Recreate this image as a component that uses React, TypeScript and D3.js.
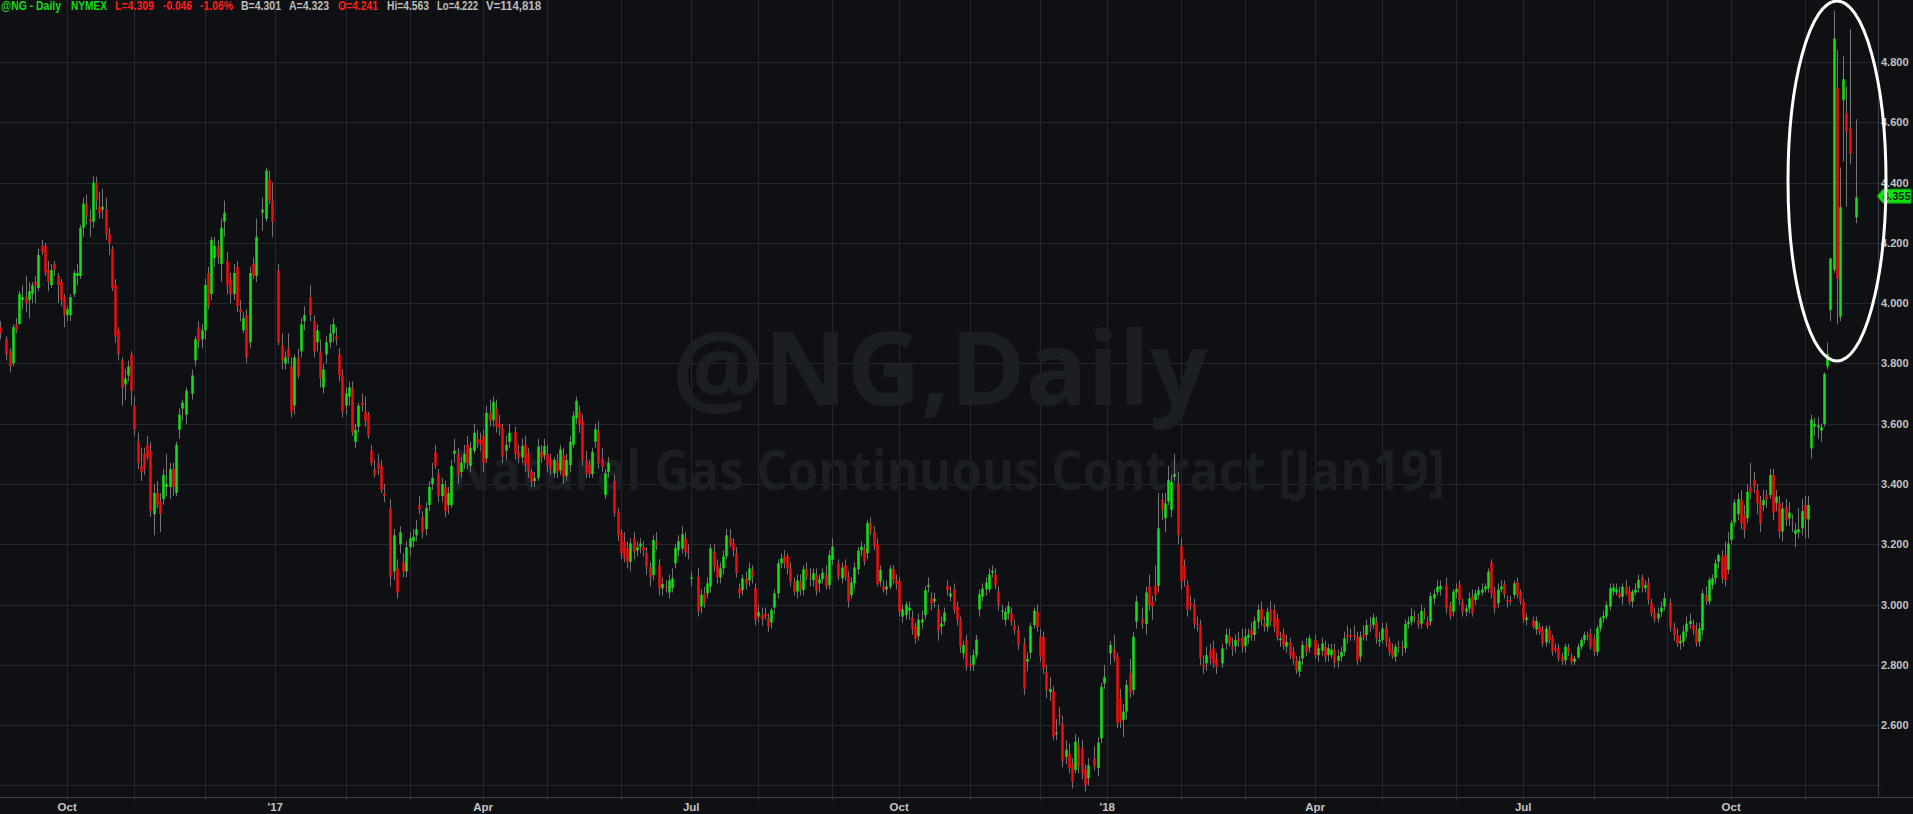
import React, { useEffect, useRef } from "react";
import * as d3 from "d3";

// one row per weekday of the month: [open, high, low, close], null = exchange holiday
const sep16 = [
  [3.92,3.94,3.88,3.90], null, [3.88,3.89,3.81,3.83], [3.84,3.85,3.77,3.79], [3.80,3.93,3.79,3.92],
  [3.93,3.95,3.90,3.91], [3.93,4.04,3.93,4.03], [4.01,4.06,3.98,4.02], [4.02,4.09,3.97,4.00], [4.01,4.07,3.95,4.04],
  [4.03,4.07,4.00,4.06], [4.07,4.09,4.00,4.06], [4.05,4.18,4.04,4.16], [4.19,4.21,4.16,4.17], [4.19,4.20,4.09,4.10],
  [4.11,4.14,4.04,4.07], [4.06,4.13,4.05,4.11], [4.13,4.14,4.09,4.11], [4.09,4.10,4.00,4.06], [4.07,4.08,3.99,4.01],
  [4.02,4.03,3.92,3.96],
];
const oct16 = [
  [3.96,3.99,3.94,3.98], [3.96,4.03,3.94,4.02], [4.03,4.11,4.02,4.10], [4.09,4.13,4.06,4.10], [4.09,4.26,4.08,4.25],
  [4.25,4.35,4.22,4.33], [4.33,4.36,4.26,4.29], [4.28,4.31,4.22,4.27], [4.27,4.42,4.25,4.40], [4.40,4.42,4.31,4.34],
  [4.32,4.37,4.28,4.30], [4.31,4.38,4.28,4.32], [4.31,4.35,4.21,4.23], [4.23,4.25,4.16,4.20], [4.18,4.19,4.04,4.05],
  [4.06,4.08,3.87,3.89], [3.91,3.92,3.81,3.83], [3.81,3.82,3.66,3.72], [3.73,3.78,3.68,3.75], [3.76,3.81,3.74,3.79],
  [3.83,3.84,3.66,3.71],
];
const nov16 = [
  [3.66,3.69,3.56,3.58], [3.54,3.57,3.45,3.47], [3.46,3.52,3.41,3.44], [3.50,3.52,3.43,3.45], [3.53,3.56,3.48,3.49],
  [3.51,3.54,3.29,3.31], [3.30,3.40,3.23,3.37], [3.37,3.41,3.32,3.33], [3.34,3.37,3.24,3.30], [3.35,3.45,3.33,3.43],
  [3.39,3.50,3.36,3.40], [3.39,3.47,3.35,3.45], [3.45,3.47,3.36,3.39], [3.37,3.54,3.36,3.53], [3.58,3.65,3.55,3.63],
  [3.65,3.68,3.61,3.67], [3.63,3.72,3.60,3.71], null, [3.70,3.78,3.68,3.76], [3.81,3.89,3.79,3.88],
  [3.92,3.94,3.85,3.87], [3.88,3.93,3.85,3.91],
];
const dec16 = [
  [3.91,4.08,3.88,4.06], [4.10,4.12,3.98,3.99], [4.03,4.22,4.01,4.21], [4.15,4.22,4.12,4.19], [4.19,4.21,4.13,4.15],
  [4.13,4.28,4.07,4.25], [4.27,4.34,4.22,4.30], [4.14,4.17,4.03,4.06], [4.08,4.10,4.00,4.03], [4.03,4.13,4.01,4.10],
  [4.12,4.14,3.97,3.99], [3.98,4.01,3.94,3.97], [3.91,3.97,3.90,3.95], [3.96,3.98,3.80,3.82], [3.87,4.12,3.85,4.10],
  [4.13,4.15,4.08,4.09], [4.09,4.28,4.07,4.22], null, [4.30,4.35,4.24,4.31], [4.28,4.45,4.27,4.44],
  [4.41,4.44,4.33,4.34], [4.34,4.40,4.22,4.27],
];
const jan17 = [
  null, [4.11,4.13,3.86,3.87], [3.86,3.90,3.78,3.81], [3.80,3.84,3.78,3.82], [3.85,3.90,3.80,3.82],
  [3.79,3.82,3.62,3.64], [3.66,3.83,3.63,3.82], [3.82,3.85,3.75,3.76], [3.84,3.95,3.82,3.93], [3.94,3.99,3.91,3.96],
  null, [4.02,4.06,3.94,3.96], [3.94,3.96,3.82,3.84], [3.87,3.93,3.84,3.91], [3.84,3.88,3.72,3.75],
  [3.72,3.80,3.70,3.78], [3.83,3.89,3.80,3.87], [3.87,3.93,3.85,3.90], [3.90,3.95,3.87,3.93], [3.89,3.92,3.86,3.88],
  [3.83,3.85,3.74,3.76], [3.76,3.78,3.62,3.64],
];
const feb17 = [
  [3.66,3.72,3.63,3.70], [3.69,3.74,3.66,3.72], [3.72,3.74,3.56,3.57], [3.54,3.60,3.52,3.58], [3.59,3.67,3.57,3.66],
  [3.67,3.70,3.64,3.66], [3.64,3.69,3.59,3.61], [3.63,3.64,3.55,3.56], [3.51,3.53,3.46,3.47], [3.45,3.48,3.42,3.43],
  [3.47,3.50,3.43,3.45], [3.46,3.48,3.37,3.38], [3.37,3.40,3.34,3.36], null, [3.32,3.35,3.06,3.09],
  [3.11,3.25,3.08,3.23], [3.12,3.15,3.02,3.04], [3.20,3.26,3.17,3.24], [3.14,3.17,3.09,3.11], [3.11,3.21,3.09,3.19],
];
const mar17 = [
  [3.19,3.24,3.16,3.22], [3.21,3.25,3.19,3.225], [3.23,3.28,3.21,3.25], [3.33,3.36,3.30,3.315], [3.29,3.31,3.22,3.24],
  [3.25,3.34,3.23,3.32], [3.33,3.41,3.31,3.39], [3.40,3.47,3.38,3.42], [3.505,3.53,3.45,3.46], [3.435,3.45,3.34,3.36],
  [3.36,3.42,3.34,3.40], [3.39,3.41,3.29,3.31], [3.33,3.39,3.30,3.37], [3.33,3.48,3.32,3.46], [3.50,3.55,3.47,3.51],
  [3.50,3.52,3.40,3.43], [3.44,3.49,3.42,3.47], [3.47,3.53,3.45,3.50], [3.53,3.56,3.45,3.47], [3.46,3.54,3.44,3.52],
  [3.51,3.60,3.50,3.57], [3.55,3.58,3.52,3.535], [3.546,3.57,3.51,3.53],
];
const apr17 = [
  [3.56,3.58,3.44,3.47], [3.485,3.66,3.47,3.636], [3.636,3.68,3.59,3.607], [3.612,3.69,3.59,3.672], [3.65,3.68,3.57,3.59],
  [3.60,3.63,3.56,3.585], [3.585,3.60,3.47,3.49], [3.51,3.56,3.48,3.53], [3.54,3.60,3.52,3.57], null,
  [3.573,3.59,3.48,3.50], [3.507,3.53,3.47,3.485], [3.488,3.55,3.47,3.526], [3.53,3.56,3.44,3.463], [3.50,3.52,3.42,3.441],
  [3.44,3.45,3.39,3.408], [3.41,3.44,3.39,3.42], [3.42,3.55,3.41,3.524], [3.507,3.53,3.47,3.488], [3.496,3.55,3.48,3.526],
];
const may17 = [
  [3.50,3.53,3.44,3.463], [3.485,3.50,3.43,3.447], [3.435,3.49,3.42,3.48], [3.474,3.50,3.42,3.441], [3.445,3.53,3.43,3.515],
  [3.495,3.52,3.40,3.424], [3.427,3.50,3.41,3.48], [3.463,3.56,3.44,3.54], [3.53,3.64,3.52,3.627], [3.618,3.69,3.60,3.676],
  [3.64,3.66,3.57,3.596], [3.61,3.63,3.46,3.48], [3.482,3.51,3.42,3.435], [3.463,3.48,3.42,3.433], [3.433,3.52,3.42,3.507],
  [3.54,3.60,3.52,3.582], [3.577,3.61,3.45,3.468], [3.485,3.52,3.44,3.457], [3.363,3.45,3.35,3.435], [3.44,3.49,3.42,3.47],
  null, [3.41,3.43,3.29,3.303], [3.308,3.32,3.21,3.23],
];
const jun17 = [
  [3.238,3.25,3.15,3.17], [3.21,3.24,3.14,3.153], [3.186,3.21,3.12,3.142], [3.142,3.22,3.11,3.203], [3.22,3.24,3.15,3.175],
  [3.18,3.21,3.16,3.19], [3.192,3.22,3.17,3.203], [3.19,3.21,3.16,3.18], [3.17,3.19,3.10,3.125], [3.125,3.14,3.06,3.09],
  [3.098,3.23,3.08,3.214], [3.208,3.24,3.18,3.197], [3.128,3.15,3.03,3.054], [3.054,3.09,3.03,3.068], [3.06,3.08,3.04,3.054],
  [3.04,3.10,3.02,3.08], [3.054,3.12,3.04,3.087], [3.137,3.20,3.12,3.187], [3.18,3.23,3.16,3.21], [3.186,3.26,3.17,3.233],
  [3.22,3.24,3.16,3.175], [3.175,3.20,3.15,3.17],
];
const jul17 = [
  [3.085,3.11,3.06,3.09], null, [3.092,3.12,2.96,2.976], [2.993,3.05,2.97,3.032], [3.037,3.06,2.99,3.004],
  [3.037,3.09,3.02,3.07], [3.06,3.20,3.04,3.187], [3.175,3.20,3.11,3.126], [3.13,3.15,3.07,3.09], [3.09,3.14,3.07,3.12],
  [3.12,3.18,3.10,3.16], [3.16,3.25,3.15,3.23], [3.22,3.25,3.19,3.197], [3.204,3.22,3.16,3.18], [3.17,3.19,3.09,3.104],
  [3.054,3.07,3.02,3.037], [3.048,3.10,3.03,3.087], [3.087,3.11,3.05,3.07], [3.08,3.14,3.06,3.12], [3.115,3.13,3.07,3.092],
  [3.054,3.07,2.93,2.95],
];
const aug17 = [
  [2.96,3.00,2.94,2.976], [2.965,2.99,2.93,2.95], [2.97,2.99,2.95,2.96], [2.954,2.97,2.91,2.927], [2.94,2.99,2.92,2.982],
  [2.99,3.05,2.97,3.037], [3.037,3.15,3.02,3.137], [3.137,3.17,3.12,3.153], [3.16,3.18,3.12,3.137], [3.16,3.17,3.10,3.12],
  [3.12,3.14,3.06,3.076], [3.076,3.09,3.03,3.043], [3.043,3.10,3.02,3.08], [3.076,3.10,3.03,3.048], [3.048,3.13,3.03,3.117],
  [3.117,3.14,3.08,3.092], [3.09,3.12,3.06,3.085], [3.081,3.12,3.06,3.104], [3.098,3.12,3.03,3.046], [3.07,3.10,3.04,3.084],
  [3.084,3.12,3.07,3.106], [3.098,3.13,3.05,3.06], [3.065,3.18,3.05,3.164],
];
const sep17 = [
  [3.148,3.22,3.13,3.192], null, [3.137,3.15,3.08,3.092], [3.087,3.14,3.07,3.123], [3.131,3.15,3.08,3.092],
  [3.095,3.11,2.99,3.01], [3.031,3.09,3.02,3.073], [3.07,3.14,3.05,3.123], [3.117,3.19,3.10,3.179], [3.18,3.21,3.16,3.192],
  [3.186,3.20,3.13,3.142], [3.17,3.28,3.15,3.27], [3.271,3.29,3.23,3.242], [3.242,3.26,3.18,3.192], [3.20,3.22,3.06,3.067],
  [3.076,3.13,3.06,3.115], [3.059,3.08,3.04,3.048], [3.05,3.08,3.03,3.06], [3.059,3.13,3.05,3.12], [3.117,3.13,3.07,3.08],
  [3.08,3.10,3.05,3.067],
];
const oct17 = [
  [3.078,3.09,2.96,2.976], [2.96,3.00,2.94,2.984], [2.965,3.01,2.95,3.0], [2.98,3.01,2.95,2.99], [2.957,2.98,2.90,2.918],
  [2.926,2.94,2.87,2.888], [2.895,2.97,2.88,2.95], [2.94,2.98,2.92,2.95], [2.965,3.06,2.95,3.048], [3.059,3.09,3.04,3.065],
  [3.02,3.04,2.98,3.003], [3.01,3.04,2.99,3.02], [2.982,3.00,2.88,2.913], [2.926,2.96,2.90,2.937], [2.943,2.99,2.93,2.973],
  [3.062,3.08,3.03,3.048], [3.026,3.06,3.01,3.037], [3.051,3.07,2.97,2.982], [2.993,3.01,2.93,2.949], [2.95,2.96,2.84,2.86],
  [2.838,2.88,2.82,2.865], [2.884,2.90,2.78,2.794],
];
const nov17 = [
  [2.805,2.83,2.78,2.794], [2.80,2.85,2.78,2.832], [2.832,2.90,2.82,2.884], [2.984,3.05,2.96,3.034], [3.026,3.07,3.01,3.053],
  [3.05,3.09,3.03,3.073], [3.05,3.12,3.04,3.10], [3.105,3.13,3.09,3.112], [3.10,3.12,3.05,3.065], [3.043,3.06,2.98,2.998],
  [2.976,3.00,2.95,2.98], [2.949,2.99,2.93,2.976], [2.97,3.01,2.95,2.995], [2.97,2.99,2.93,2.943], [2.932,2.95,2.90,2.913],
  [2.915,2.93,2.85,2.866], null, [2.87,2.89,2.70,2.72], [2.81,2.84,2.78,2.82], [2.84,2.94,2.82,2.928],
  [2.932,2.99,2.92,2.98], [2.976,3.00,2.91,2.926],
];
const dec17 = [
  [2.893,2.92,2.81,2.827], [2.893,2.91,2.77,2.788], [2.777,2.80,2.69,2.716], [2.71,2.76,2.68,2.72], [2.714,2.73,2.55,2.562],
  [2.57,2.62,2.55,2.575], [2.633,2.66,2.60,2.628], [2.606,2.63,2.46,2.479], [2.495,2.55,2.47,2.518], [2.506,2.54,2.44,2.457],
  [2.473,2.49,2.39,2.412], [2.451,2.57,2.44,2.545], [2.534,2.56,2.44,2.462], [2.523,2.55,2.42,2.44], [2.453,2.47,2.38,2.401],
  [2.423,2.49,2.40,2.467], null, [2.49,2.53,2.45,2.464], [2.457,2.56,2.43,2.542], [2.556,2.74,2.54,2.727],
  [2.738,2.80,2.72,2.76],
];
const jan18 = [
  null, [2.838,2.88,2.80,2.866], [2.85,2.90,2.81,2.822], [2.827,2.84,2.59,2.606], [2.689,2.72,2.59,2.612],
  [2.617,2.67,2.56,2.645], [2.645,2.75,2.62,2.733], [2.772,2.82,2.69,2.705], [2.716,2.91,2.70,2.893], [2.943,3.03,2.92,3.01],
  null, [2.95,2.99,2.92,2.937], [2.935,3.06,2.90,3.04], [3.06,3.10,2.98,2.998], [3.01,3.03,2.95,2.993],
  [3.062,3.13,3.01,3.032], [3.062,3.37,3.04,3.253], [3.349,3.37,3.28,3.314], [3.286,3.37,3.24,3.336], [3.341,3.46,3.33,3.413],
  [3.314,3.43,3.29,3.407], [3.424,3.50,3.41,3.433], [3.402,3.44,3.20,3.231],
];
const feb18 = [
  [3.194,3.22,3.05,3.076], [3.128,3.15,3.06,3.084], [3.065,3.08,2.96,2.984], [3.006,3.03,2.98,2.995], [3.0,3.02,2.92,2.935],
  [2.937,2.96,2.91,2.932], [2.932,2.95,2.80,2.821], [2.80,2.83,2.77,2.793], [2.805,2.86,2.78,2.832], [2.847,2.87,2.80,2.821],
  [2.855,2.88,2.79,2.805], [2.821,2.84,2.77,2.793], null, [2.805,2.87,2.79,2.855], [2.871,2.92,2.85,2.90],
  [2.895,2.92,2.86,2.871], [2.86,2.89,2.83,2.852], [2.862,2.90,2.84,2.882], [2.888,2.91,2.86,2.876], [2.89,2.92,2.84,2.858],
];
const mar18 = [
  [2.862,2.92,2.84,2.895], [2.89,2.92,2.87,2.90], [2.915,2.94,2.88,2.899], [2.899,2.96,2.88,2.946], [2.943,3.0,2.92,2.982],
  [2.985,3.01,2.93,2.949], [2.937,2.96,2.91,2.926], [2.926,2.99,2.91,2.976], [2.984,3.01,2.93,2.943], [2.982,3.0,2.91,2.926],
  [2.954,2.97,2.88,2.893], [2.882,2.91,2.86,2.888], [2.904,2.92,2.85,2.865], [2.86,2.90,2.84,2.876], [2.876,2.89,2.82,2.832],
  [2.843,2.86,2.80,2.818], [2.816,2.83,2.77,2.783], [2.777,2.83,2.76,2.813], [2.821,2.88,2.80,2.866], [2.866,2.89,2.83,2.843],
  [2.858,2.90,2.84,2.888], null,
];
const apr18 = [
  [2.882,2.90,2.82,2.832], [2.832,2.87,2.81,2.855], [2.847,2.89,2.83,2.871], [2.86,2.88,2.81,2.827], [2.832,2.87,2.81,2.855],
  [2.832,2.87,2.82,2.85], [2.851,2.87,2.79,2.807], [2.814,2.85,2.79,2.829], [2.827,2.86,2.81,2.843], [2.843,2.91,2.83,2.888],
  [2.899,2.93,2.87,2.893], [2.899,2.92,2.88,2.891], [2.899,2.93,2.88,2.893], [2.893,2.91,2.80,2.814], [2.827,2.91,2.81,2.893],
  [2.90,2.93,2.88,2.893], [2.899,2.95,2.88,2.932], [2.932,2.96,2.91,2.926], [2.932,2.97,2.92,2.957], [2.943,2.96,2.87,2.888],
  [2.878,2.91,2.86,2.882],
];
const may18 = [
  [2.882,2.94,2.87,2.921], [2.924,2.94,2.86,2.877], [2.877,2.89,2.83,2.843], [2.849,2.87,2.82,2.827], [2.827,2.87,2.81,2.86],
  [2.86,2.88,2.84,2.855], [2.86,2.88,2.83,2.855], [2.855,2.95,2.84,2.935], [2.935,2.96,2.92,2.943], [2.943,2.99,2.93,2.962],
  [2.96,2.98,2.94,2.954], [2.949,2.97,2.92,2.932], [2.937,3.0,2.92,2.979], [2.973,2.99,2.95,2.965], [2.943,2.96,2.92,2.929],
  [2.943,3.04,2.93,3.028], [3.02,3.05,3.0,3.035], [3.042,3.08,3.03,3.059], [3.05,3.08,3.03,3.062], null,
  [3.065,3.09,2.97,2.987], [2.998,3.01,2.95,2.96], [2.976,3.05,2.96,3.043],
];
const jun18 = [
  [3.04,3.07,3.02,3.052], [3.065,3.08,3.0,3.015], [3.01,3.02,2.96,2.976], [2.976,3.0,2.96,2.987], [2.987,3.04,2.97,3.02],
  [3.026,3.05,2.96,2.97], [3.015,3.05,3.0,3.037], [3.032,3.06,3.02,3.048], [3.04,3.07,3.03,3.05], [3.05,3.07,3.04,3.06],
  [3.054,3.12,3.04,3.109], [3.139,3.15,3.02,3.037], [3.043,3.06,2.97,2.987], [3.004,3.07,2.99,3.05], [3.05,3.08,3.04,3.06],
  [3.068,3.08,3.02,3.032], [3.015,3.03,2.99,3.01], [3.015,3.03,3.0,3.01], [3.032,3.08,3.02,3.07], [3.073,3.09,3.02,3.032],
  [3.04,3.05,3.0,3.01],
];
const jul18 = [
  [3.01,3.02,2.94,2.951], [2.948,2.97,2.93,2.957], null, [2.946,2.96,2.92,2.926], [2.918,2.96,2.90,2.946],
  [2.926,2.94,2.90,2.91], [2.918,2.93,2.86,2.871], [2.874,2.93,2.86,2.921], [2.915,2.93,2.87,2.882], [2.891,2.90,2.83,2.843],
  [2.855,2.87,2.84,2.849], [2.858,2.87,2.81,2.821], [2.827,2.84,2.80,2.81], [2.815,2.87,2.80,2.86], [2.858,2.87,2.83,2.84],
  [2.827,2.84,2.80,2.81], [2.81,2.83,2.80,2.821], [2.825,2.87,2.82,2.86], [2.86,2.89,2.85,2.882], [2.882,2.91,2.87,2.899],
  [2.899,2.91,2.88,2.895], [2.904,2.92,2.85,2.86],
];
const aug18 = [
  [2.888,2.90,2.83,2.843], [2.843,2.93,2.83,2.921], [2.921,2.96,2.91,2.954], [2.954,2.98,2.94,2.962], [2.96,3.01,2.95,2.998],
  [2.993,3.07,2.98,3.054], [3.043,3.07,3.03,3.057], [3.04,3.07,3.03,3.05], [3.037,3.06,3.02,3.026], [3.026,3.07,3.0,3.059],
  [3.059,3.08,3.03,3.037], [3.043,3.06,3.0,3.01], [3.01,3.05,2.99,3.043], [3.04,3.07,3.03,3.05], [3.054,3.10,3.04,3.082],
  [3.09,3.10,3.04,3.057], [3.054,3.08,3.04,3.065], [3.073,3.09,3.0,3.015], [3.006,3.02,2.96,2.971], [2.973,2.99,2.94,2.949],
  [2.954,2.99,2.94,2.971], [2.975,3.01,2.96,2.99], [2.993,3.04,2.98,3.021],
];
const sep18 = [
  null, [3.006,3.02,2.91,2.926], [2.926,2.94,2.88,2.899], [2.899,2.92,2.86,2.871], [2.871,2.90,2.85,2.88],
  [2.877,2.93,2.86,2.91], [2.91,2.96,2.89,2.937], [2.935,2.97,2.92,2.945], [2.932,2.95,2.90,2.915], [2.915,2.94,2.86,2.871],
  [2.877,2.94,2.86,2.921], [2.915,3.05,2.90,3.037], [3.032,3.06,3.0,3.01], [3.01,3.09,3.0,3.082], [3.065,3.10,3.05,3.087],
  [3.087,3.15,3.07,3.137], [3.142,3.17,3.12,3.164], [3.159,3.18,3.07,3.087], [3.164,3.21,3.06,3.081], [3.115,3.24,3.10,3.203],
];
const oct18 = [
  [3.214,3.28,3.20,3.272], [3.272,3.35,3.26,3.338], [3.30,3.37,3.28,3.35], [3.347,3.38,3.25,3.269], [3.297,3.33,3.22,3.247],
  [3.286,3.40,3.27,3.374], [3.391,3.47,3.35,3.369], [3.413,3.44,3.37,3.391], [3.38,3.40,3.30,3.336], [3.341,3.36,3.24,3.269],
  [3.33,3.38,3.31,3.347], [3.363,3.38,3.32,3.347], [3.363,3.45,3.35,3.43], [3.43,3.45,3.28,3.305], [3.336,3.38,3.31,3.358],
  [3.336,3.36,3.22,3.242], [3.242,3.34,3.21,3.319], [3.325,3.35,3.26,3.28], [3.286,3.34,3.26,3.305], [3.275,3.30,3.24,3.272],
  [3.234,3.27,3.19,3.247], [3.24,3.32,3.22,3.25], [3.253,3.35,3.23,3.31],
];
const nov18 = [
  [3.33,3.36,3.22,3.283], [3.283,3.36,3.22,3.33], [3.518,3.63,3.485,3.614], [3.59,3.62,3.56,3.599], [3.588,3.62,3.55,3.595],
  [3.577,3.60,3.54,3.588], [3.599,3.77,3.59,3.765], [3.79,3.87,3.78,3.831], [3.977,4.15,3.94,4.148], [4.11,4.97,4.10,4.878],
  [4.713,4.84,3.93,4.082], [3.955,4.45,3.94,4.318], [4.673,4.82,4.47,4.743], [4.63,4.72,4.32,4.569], [4.58,4.91,4.46,4.495],
  null, [4.285,4.61,4.265,4.351],
];

const monthlyBars = [
  sep16, oct16, nov16, dec16, jan17, feb17, mar17, apr17, may17, jun17, jul17, aug17, sep17, oct17,
  nov17, dec17, jan18, feb18, mar18, apr18, may18, jun18, jul18, aug18, sep18, oct18, nov18,
];

const firstDay = new Date(2016, 8, 2);
const lastDay = new Date(2018, 10, 23);

const priceTicks = [2.4, 2.6, 2.8, 3.0, 3.2, 3.4, 3.6, 3.8, 4.0, 4.2, 4.4, 4.6, 4.8];
const lastPrice = 4.355;

const headerTexts = ["@NG - Daily", "NYMEX", "L=4.309", "-0.046", "-1.06%", "B=4.301", "A=4.323", "O=4.241", "Hi=4.563", "Lo=4.222", "V=114,818"];
const headerKinds = ["sym", "sym", "down", "down", "down", "info", "info", "down", "info", "info", "info"];

const watermarkTitle = "@NG,Daily";
const watermarkSub = "Natural Gas Continuous Contract [Jan19]";

// layout
const W = 1913;
const H = 814;
const plotRight = 1878;
const plotBottom = 797;
const headerX = [1, 71, 115, 163, 200, 241, 289, 338, 387, 437, 486];
const headerW = [60, 36, 39, 29, 33, 40, 40, 40, 42, 41, 55];

const BG = "#0e1013";
const GRID = "#24272d";
const AXIS = "#3a3e45";
const TEXT = "#c4c4c4";
const WICK = "#747474";
const UP = "#12e412";
const DOWN = "#f00d0d";
const WATERMARK = "#1b1e23";
const headerColor = { sym: "#14dc14", down: "#ff1e1e", info: "#bdbdbd" };

const axisFont = '"Liberation Sans", Arial, sans-serif';
const narrowFont = '"Liberation Sans Narrow", "Liberation Sans", Arial, sans-serif';

const NGChart = () => {
  const ref = useRef(null);

  useEffect(() => {
    const svg = d3.select(ref.current);
    svg.selectAll("*").remove();

    // one slot per weekday, holidays stay as empty slots
    const days = d3.timeDay
      .range(firstDay, d3.timeDay.offset(lastDay, 1))
      .filter(d => d.getDay() !== 0 && d.getDay() !== 6);
    const months = d3.groups(days.map((d, i) => ({ d, i })), s => d3.timeMonth.floor(s.d).getTime());

    const bars = [];
    months.forEach(([, slots], m) => {
      const rows = monthlyBars[m] || [];
      slots.forEach((s, k) => {
        const r = rows[k];
        if (r) bars.push({ i: s.i, open: r[0], high: r[1], low: r[2], close: r[3] });
      });
    });

    const x = d3.scaleLinear().domain([0, days.length - 1]).range([0, 1856]);
    const y = d3.scaleLinear().domain([2.4, 4.8]).range([785.4, 62]);
    const px = v => Math.round(v) + 0.5;

    svg.append("rect").attr("width", W).attr("height", H).attr("fill", BG);

    // month grid + ticks
    const monthStarts = months.slice(1).map(([key, slots]) => ({ date: new Date(key), i: slots[0].i }));
    svg.append("g")
      .selectAll("line")
      .data(monthStarts)
      .join("line")
      .attr("x1", d => px(x(d.i))).attr("x2", d => px(x(d.i)))
      .attr("y1", 0).attr("y2", plotBottom + 4)
      .attr("stroke", GRID);

    // price grid
    svg.append("g")
      .selectAll("line")
      .data(priceTicks)
      .join("line")
      .attr("x1", 0).attr("x2", plotRight + 3)
      .attr("y1", d => px(y(d))).attr("y2", d => px(y(d)))
      .attr("stroke", GRID);

    // watermark
    svg.append("text")
      .attr("x", plotRight / 2 + 1).attr("y", 405)
      .attr("text-anchor", "middle")
      .attr("textLength", 536).attr("lengthAdjust", "spacingAndGlyphs")
      .style("font-family", '"Open Sans", "Noto Sans", sans-serif')
      .style("font-weight", 700).style("font-size", "102px")
      .attr("fill", WATERMARK)
      .text(watermarkTitle);
    svg.append("text")
      .attr("x", plotRight / 2 + 9).attr("y", 490)
      .attr("text-anchor", "middle")
      .attr("textLength", 994).attr("lengthAdjust", "spacingAndGlyphs")
      .style("font-family", '"Open Sans", "Noto Sans", sans-serif')
      .style("font-weight", 700).style("font-size", "56px")
      .attr("fill", WATERMARK)
      .text(watermarkSub);

    // axes lines
    svg.append("line")
      .attr("x1", px(plotRight)).attr("x2", px(plotRight))
      .attr("y1", 0).attr("y2", plotBottom)
      .attr("stroke", AXIS);
    svg.append("line")
      .attr("x1", 0).attr("x2", W)
      .attr("y1", px(plotBottom)).attr("y2", px(plotBottom))
      .attr("stroke", AXIS);

    // candles
    svg.append("clipPath").attr("id", "plotClip")
      .append("rect").attr("width", plotRight).attr("height", plotBottom);
    const cg = svg.append("g").attr("clip-path", "url(#plotClip)");

    cg.selectAll(".wick")
      .data(bars)
      .join("line")
      .attr("class", "wick")
      .attr("x1", d => px(x(d.i))).attr("x2", d => px(x(d.i)))
      .attr("y1", d => y(d.high)).attr("y2", d => y(d.low))
      .attr("stroke", WICK);

    cg.selectAll(".body")
      .data(bars)
      .join("rect")
      .attr("class", "body")
      .attr("x", d => px(x(d.i)) - 1.25)
      .attr("width", 2.5)
      .attr("y", d => y(Math.max(d.open, d.close)))
      .attr("height", d => Math.max(1, Math.abs(y(d.open) - y(d.close))))
      .attr("fill", d => (d.close >= d.open ? UP : DOWN));

    // price labels
    svg.append("g")
      .selectAll("text")
      .data(priceTicks.filter(t => t > 2.5))
      .join("text")
      .attr("x", plotRight + 3)
      .attr("y", d => y(d) + 4)
      .style("font-family", axisFont).style("font-weight", 700).style("font-size", "11px")
      .attr("fill", TEXT)
      .text(d => d3.format(".3f")(d));

    // quarter labels
    svg.append("g")
      .selectAll("text")
      .data(monthStarts.filter(d => d.date.getMonth() % 3 === 0))
      .join("text")
      .attr("x", d => x(d.i))
      .attr("y", 811)
      .attr("text-anchor", "middle")
      .style("font-family", narrowFont).style("font-weight", 700).style("font-size", "11.5px")
      .attr("fill", TEXT)
      .text(d => (d.date.getMonth() === 0 ? "'" + d3.timeFormat("%y")(d.date) : d3.timeFormat("%b")(d.date)));

    // last price tag
    const ly = y(lastPrice);
    svg.append("path")
      .attr("d", `M${plotRight - 1},${ly} L${plotRight + 5},${ly - 7} H${W - 2} V${ly + 7} H${plotRight + 5} Z`)
      .attr("fill", "#12e012").attr("stroke", "#0a9a0a");
    svg.append("text")
      .attr("x", plotRight + 5).attr("y", ly + 4)
      .style("font-family", axisFont).style("font-weight", 700).style("font-size", "11px")
      .attr("fill", "#0b200b")
      .text(d3.format(".3f")(lastPrice));

    // header line
    svg.append("g")
      .selectAll("text")
      .data(headerTexts)
      .join("text")
      .attr("x", (d, i) => headerX[i])
      .attr("y", 9.5)
      .attr("textLength", (d, i) => headerW[i])
      .attr("lengthAdjust", "spacingAndGlyphs")
      .style("font-family", narrowFont).style("font-weight", 700).style("font-size", "12px")
      .attr("fill", (d, i) => headerColor[headerKinds[i]])
      .text(d => d);

    // hand-drawn highlight round the spike
    svg.append("ellipse")
      .attr("cx", 1837).attr("cy", 181)
      .attr("rx", 49).attr("ry", 180)
      .attr("fill", "none")
      .attr("stroke", "#ffffff")
      .attr("stroke-width", 3);
  }, []);

  return <svg ref={ref} width={W} height={H} style={{ display: "block" }}></svg>;
};

export default function App() {
  return (
    <div style={{ position: "absolute", left: 0, top: 0, width: W, height: H, overflow: "hidden", background: BG }}>
      <NGChart />
    </div>
  );
}
